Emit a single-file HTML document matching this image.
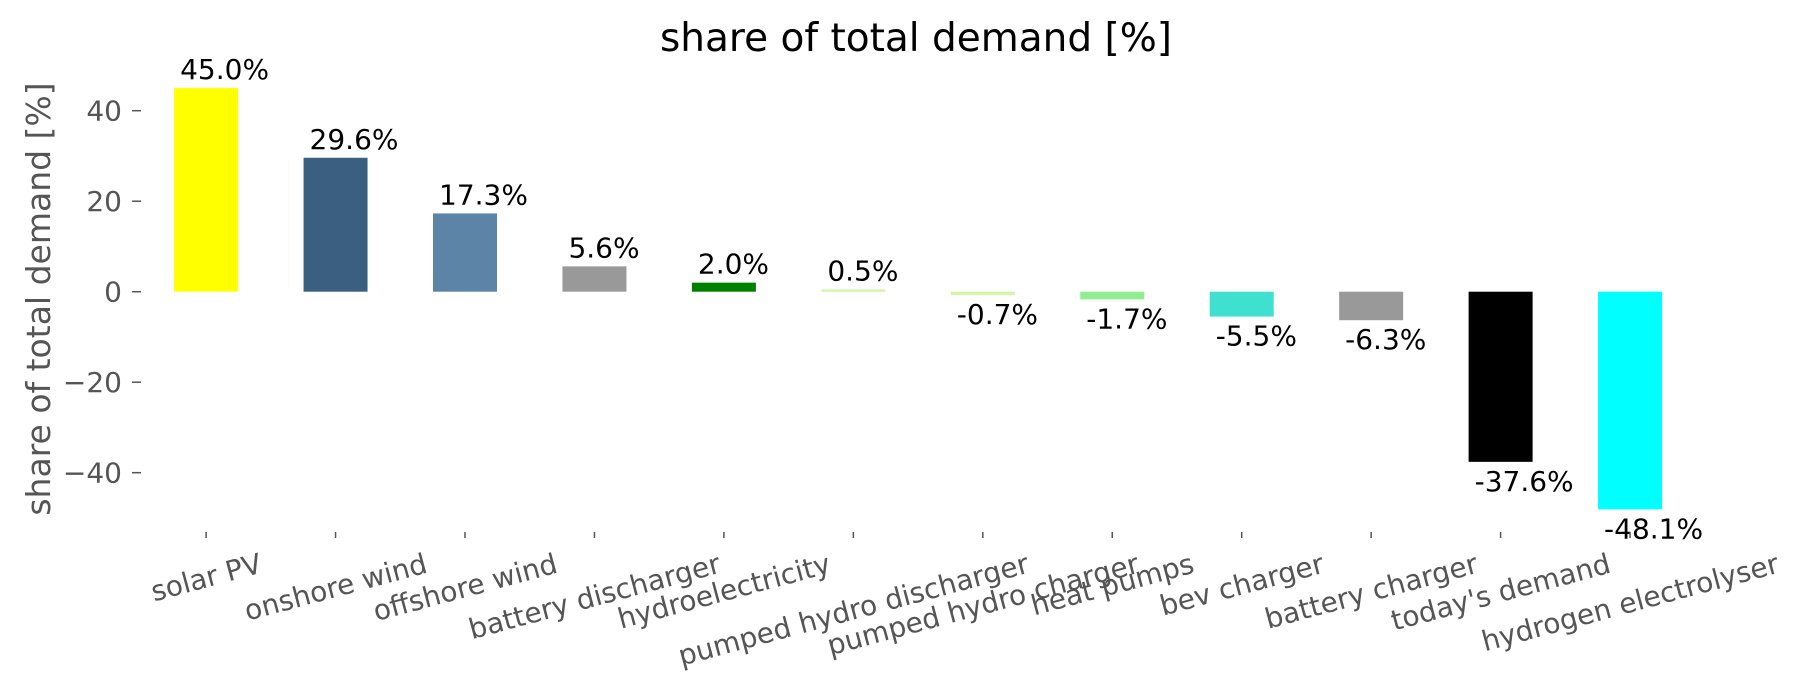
<!DOCTYPE html>
<html><head><meta charset="utf-8"><style>
html,body{margin:0;padding:0;background:#fff;}
svg{display:block;font-family:"DejaVu Sans","Liberation Sans",sans-serif;}
</style></head><body>
<svg id="s" width="1797" height="689" viewBox="0 0 1797 689" xmlns="http://www.w3.org/2000/svg">
<text x="916" y="51" font-size="39" text-anchor="middle" fill="#000">share of total demand [%]</text>
<text transform="translate(50,299) rotate(-90)" font-size="33" text-anchor="middle" fill="#555">share of total demand [%]</text>
<g id="g"></g>
</svg>
<script>
var g=document.getElementById('g'),NS='http://www.w3.org/2000/svg';
function el(t,a,txt){var e=document.createElementNS(NS,t);for(var k in a)e.setAttribute(k,a[k]);if(txt!==undefined)e.textContent=txt;g.appendChild(e);return e;}
var z=291.7,k=4.525;
[40,20,0,-20,-40].forEach(function(v){var y=z-v*k;
 el('line',{x1:132,x2:141,y1:y,y2:y,stroke:'#555','stroke-width':1.5});
 el('text',{x:122,y:y+10,'font-size':28,'text-anchor':'end',fill:'#555'},(v<0?'\u2212'+(-v):''+v));});
var d=[["solar PV",45.0,"#ffff00"],["onshore wind",29.6,"#3b5f80"],["offshore wind",17.3,"#5c84a6"],["battery discharger",5.6,"#999999"],["hydroelectricity",2.0,"#008000"],["pumped hydro discharger",0.5,"#d4f5a0"],["pumped hydro charger",-0.7,"#d4f5a0"],["heat pumps",-1.7,"#90ee90"],["bev charger",-5.5,"#40e0d0"],["battery charger",-6.3,"#999999"],["today's demand",-37.6,"#000000"],["hydrogen electrolyser",-48.1,"#00ffff"]];
d.forEach(function(r,i){var cx=206.1+i*129.45,h=r[1]*k,x=cx-32;
 var top=r[1]>=0?z-h:z,hh=Math.abs(h);
 el('rect',{x:x,y:top,width:64,height:hh,fill:r[2]});
 var lbl=r[1].toFixed(1)+'%';
 if(r[1]>=0)el('text',{x:x+6,y:top-9,'font-size':28,fill:'#000'},lbl);
 else el('text',{x:x+6,y:z+hh+29,'font-size':28,fill:'#000'},lbl);
 el('line',{x1:cx,x2:cx,y1:532,y2:538,stroke:'#555','stroke-width':1.5});
 var t=el('text',{'font-size':28,'text-anchor':'middle',fill:'#555'},r[0]);
 var w=t.getComputedTextLength?t.getComputedTextLength():r[0].length*15;
 var s=Math.sin(15*Math.PI/180),c=Math.cos(15*Math.PI/180);
 var cy=549+(w*s+28*c)/2;
 t.setAttribute('transform','translate('+cx+','+cy+') rotate(-15)');
 t.setAttribute('y',10);
});
</script>
</body></html>
